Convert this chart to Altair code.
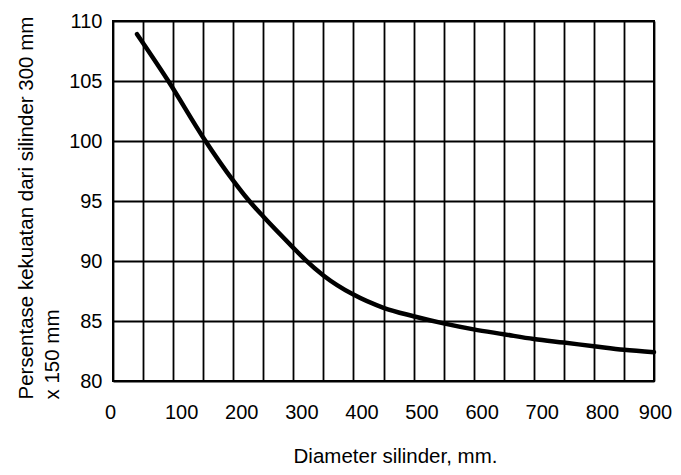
import altair as alt
import pandas as pd

# Curve
diameter = [40, 92, 150, 200, 225, 250, 300, 320, 350, 400, 450, 500, 550, 600, 650, 700, 750, 800, 850, 900]
strength = [108.9, 105.0, 100.3, 96.7, 95.1, 93.7, 91.1, 90.1, 88.8, 87.2, 86.1, 85.4, 84.8, 84.3, 83.9, 83.5, 83.2, 82.9, 82.6, 82.4]

x_grid = list(range(0, 901, 50))
y_grid = list(range(80, 111, 5))

x_title = "Diameter silinder, mm."
y_title = ["Persentase kekuatan dari silinder 300 mm", "x 150 mm"]

df = pd.DataFrame({"d": diameter, "p": strength})

FONT = "Liberation Sans"

chart = alt.Chart(df).mark_line(
    color="black", strokeWidth=4.5, interpolate="monotone", strokeCap="round"
).encode(
    x=alt.X(
        "d:Q",
        scale=alt.Scale(domain=[0, 900], nice=False, zero=False),
        axis=alt.Axis(
            values=x_grid,
            labelExpr="datum.value % 100 == 0 ? datum.label : ''",
            labelFlush=False,
            labelOverlap=False,
            title=x_title,
            titleX=282,
            titleY=81,
            titleAnchor="start",
            titleAlign="center",
            titleBaseline="alphabetic",
            labelOffset={
                "condition": [
                    {"test": "datum.value == 0", "value": -3},
                    {"test": "datum.value == 900", "value": 1},
                ],
                "value": 8,
            },
            labelPadding=21,
        ),
    ),
    y=alt.Y(
        "p:Q",
        scale=alt.Scale(domain=[80, 110], nice=False, zero=False),
        axis=alt.Axis(
            values=y_grid,
            title=y_title,
            titleAngle=270,
            titleAlign="left",
            titleBaseline="top",
            titleX=-97,
            titleY=378,
            titleLineHeight=26,
            labelPadding=11,
        ),
    ),
).properties(
    width=541,
    height=360,
    background="white",
    autosize=alt.AutoSizeParams(type="none"),
    padding={"left": 105, "top": 13, "right": 19, "bottom": 86},
).configure_view(
    stroke="black", strokeWidth=2
).configure_axis(
    grid=True,
    gridColor="black",
    gridOpacity=1,
    gridWidth=1.8,
    domain=False,
    ticks=False,
    tickSize=0,
    labelFont=FONT,
    labelFontSize=20,
    labelColor="black",
    titleFont=FONT,
    titleFontSize=20.5,
    titleFontWeight="normal",
    titleColor="black",
)

chart.save("out.html", embed_options={"renderer": "svg", "actions": False})
